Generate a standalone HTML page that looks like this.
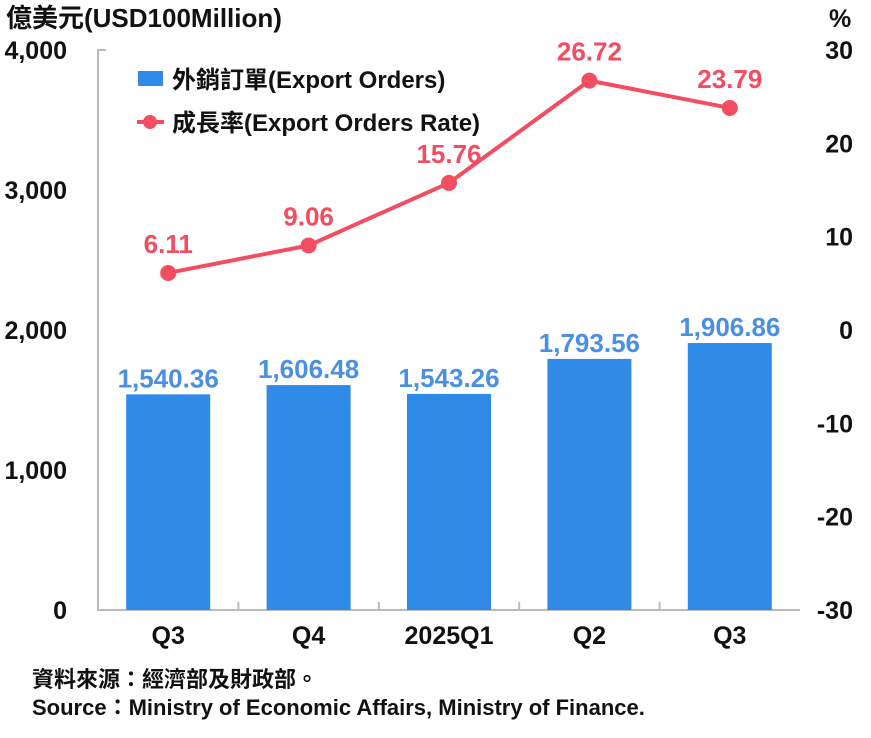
<!DOCTYPE html>
<html><head><meta charset="utf-8"><style>
body{margin:0;background:#fff;}
svg text{font-family:"Liberation Sans","Noto Sans CJK TC",sans-serif;font-weight:bold;}
</style></head><body>
<svg id="c" width="871" height="733"></svg>
<script>
const categories=["Q3","Q4","2025Q1","Q2","Q3"];
const orders=[1540.36,1606.48,1543.26,1793.56,1906.86];
const orderLabels=["1,540.36","1,606.48","1,543.26","1,793.56","1,906.86"];
const rates=[6.11,9.06,15.76,26.72,23.79];
const rateLabels=["6.11","9.06","15.76","26.72","23.79"];
const leftTicks=[0,1000,2000,3000,4000];
const leftTickLabels=["0","1,000","2,000","3,000","4,000"];
const rightTicks=[-30,-20,-10,0,10,20,30];
const rightTickLabels=["-30","-20","-10","0","10","20","30"];

const svg=document.getElementById('c');
const NS='http://www.w3.org/2000/svg';
const X0=98,X1=800,Y0=610,Y1=50;
const bw=(X1-X0)/categories.length;
const xc=i=>X0+bw*(i+0.5);
const yL=v=>Y0-(v/4000)*(Y0-Y1);
const yR=v=>Y0-((v+30)/60)*(Y0-Y1);
function el(t,a,txt){const e=document.createElementNS(NS,t);for(const k in a)e.setAttribute(k,a[k]);if(txt!==undefined)e.textContent=txt;svg.appendChild(e);return e;}

let e;
e=el('text',{x:6,y:27,'font-size':26,fill:'#111'},'億美元(USD100Million)');


e=el('text',{x:829,y:27,'font-size':25,fill:'#111'},'%');



e=el('path',{d:`M${X0+8} ${Y1}H${X0}V${Y0}H${X1}`,fill:'none',stroke:'#bbb','stroke-width':2});


for(let i=1;i<categories.length;i++){
  e=el('line',{x1:X0+bw*i,x2:X0+bw*i,y1:Y0,y2:Y0-8,stroke:'#bbb','stroke-width':2});
  
  
}
leftTicks.forEach((v,i)=>{
  e=el('text',{x:67,y:yL(v)+9,'font-size':25,fill:'#111','text-anchor':'end'},leftTickLabels[i]);
  
  
});
rightTicks.forEach((v,i)=>{
  e=el('text',{x:853,y:yR(v)+9,'font-size':25,fill:'#111','text-anchor':'end'},rightTickLabels[i]);
  
  
});
categories.forEach((c,i)=>{
  e=el('text',{x:xc(i),y:644,'font-size':25,fill:'#111','text-anchor':'middle'},c);
  
  
});
orders.forEach((v,i)=>{
  e=el('rect',{x:xc(i)-42,y:yL(v),width:84,height:Y0-yL(v),fill:'#2f8ae8'});
  
  
  e=el('text',{x:xc(i),y:yL(v)-7,'font-size':26,fill:'#4a90e2','text-anchor':'middle'},orderLabels[i]);
  
  
});
e=el('polyline',{points:rates.map((v,i)=>xc(i)+','+yR(v)).join(' '),fill:'none',stroke:'#f24d60','stroke-width':4});


rates.forEach((v,i)=>{
  e=el('circle',{cx:xc(i),cy:yR(v),r:8,fill:'#f24d60'});
  
  
  e=el('text',{x:xc(i),y:yR(v)-20,'font-size':26,fill:'#f24d60','text-anchor':'middle'},rateLabels[i]);
  
  
});
e=el('rect',{x:138,y:71,width:25,height:15,fill:'#2f8ae8'});


e=el('text',{x:172,y:88,'font-size':24,fill:'#111'},'外銷訂單(Export Orders)');


e=el('line',{x1:137,x2:164,y1:122,y2:122,stroke:'#f24d60','stroke-width':4});


e=el('circle',{cx:150,cy:122,r:7,fill:'#f24d60'});


e=el('text',{x:172,y:131,'font-size':24,fill:'#111'},'成長率(Export Orders Rate)');


e=el('text',{x:32,y:687,'font-size':22,fill:'#111'},'資料來源：經濟部及財政部。');


e=el('text',{x:32,y:715,'font-size':22,fill:'#111'},'Source：Ministry of Economic Affairs, Ministry of Finance.');


</script>
</body></html>
